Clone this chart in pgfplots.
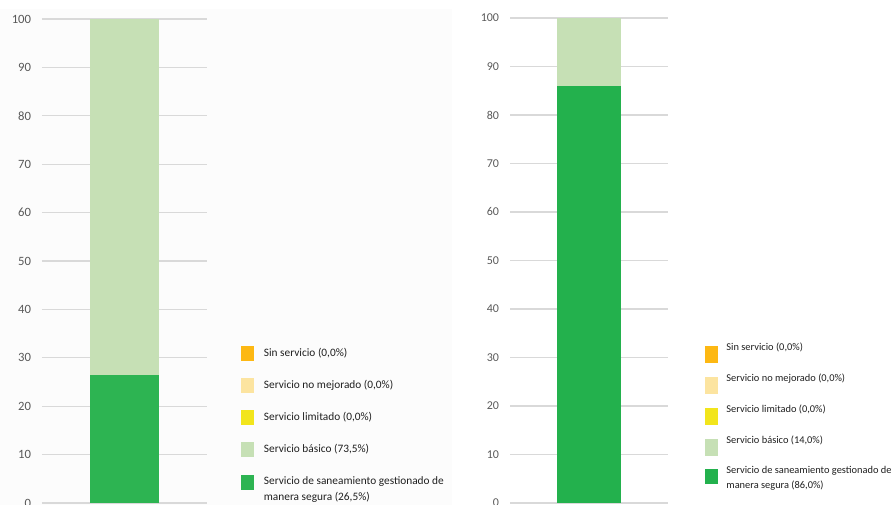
\documentclass[border=0pt]{standalone}
\usepackage{pgfplots}
\pgfplotsset{compat=1.18}
\usepackage{fontspec}
\setmainfont{Carlito}
\definecolor{gsafe}{HTML}{23B14D}
\definecolor{gsafeL}{HTML}{2DB452}
\definecolor{gbasic}{HTML}{C6E0B5}
\definecolor{ylim}{HTML}{F2E51C}
\definecolor{ynomej}{HTML}{FCE4A0}
\definecolor{osin}{HTML}{FDB813}
\definecolor{gridg}{HTML}{D9D9D9}
\definecolor{tickg}{HTML}{595959}
\definecolor{bgpanel}{HTML}{FCFCFC}
\pgfplotsset{
  imgLlast/.style={legend image code/.code={\fill[##1, overlay] (0pt,4.55pt) rectangle (9.75pt,15.75pt);}},
  imgRlast/.style={legend image code/.code={\fill[##1, overlay] (0pt,-6.7pt) rectangle (9.75pt,4.5pt);}},
}
\begin{document}
\begin{tikzpicture}[x=1pt,y=1pt]
\useasboundingbox (0,0) rectangle (668.25,378.75);
\clip (0,0) rectangle (668.25,378.75);
\fill[bgpanel] (0,0) rectangle (339,372);
\begin{axis}[
  at={(31.5pt,1.5pt)}, anchor=south west,
  scale only axis, width=123.75pt, height=363pt,
  xmin=-1, xmax=1, ymin=0, ymax=100,
  ybar stacked, bar width=51pt,
  xtick=\empty, ytick={0,10,...,100},
  axis line style={draw=none}, major tick length=0pt,
  ymajorgrids, grid style={draw=gridg, line width=0.8pt},
  /pgf/number format/assume math mode=true,
  yticklabel style={font=\fontsize{9.5}{11}\selectfont, text=tickg, inner sep=0pt, xshift=-8pt},
  legend image code/.code={\fill[#1, overlay] (0pt,-5.6pt) rectangle (9.75pt,5.6pt);},
  reverse legend, legend cell align=left,
  legend style={at={(1.206,0.3255)}, anchor=north west, draw=none, fill=none,
    inner sep=0pt, row sep=12.3pt, column sep=15pt,
    font=\fontsize{8.5}{12}\selectfont, text=black!88, cells={align=left, inner sep=0pt}},
]
\addplot[fill=gsafeL, draw=none, imgLlast] coordinates {(0,26.5)};
\addlegendentry[yshift=5.25pt]{Servicio de saneamiento gestionado de\\manera segura (26,5\%)}
\addplot[fill=gbasic, draw=none] coordinates {(0,73.5)};
\addlegendentry{Servicio básico (73,5\%)}
\addplot[fill=ylim, draw=none] coordinates {(0,0)};
\addlegendentry{Servicio limitado (0,0\%)}
\addplot[fill=ynomej, draw=none] coordinates {(0,0)};
\addlegendentry{Servicio no mejorado (0,0\%)}
\addplot[fill=osin, draw=none] coordinates {(0,0)};
\addlegendentry{Sin servicio (0,0\%)}
\end{axis}
\begin{axis}[
  at={(382.5pt,1.5pt)}, anchor=south west,
  scale only axis, width=118.5pt, height=363.75pt,
  xmin=-1, xmax=1, ymin=0, ymax=100,
  ybar stacked, bar width=48pt,
  xtick=\empty, ytick={0,10,...,100},
  axis line style={draw=none}, major tick length=0pt,
  ymajorgrids, grid style={draw=gridg, line width=0.8pt},
  /pgf/number format/assume math mode=true,
  yticklabel style={font=\fontsize{9}{11}\selectfont, text=tickg, inner sep=0pt, xshift=-8pt},
  legend image code/.code={\fill[#1, overlay] (0pt,-11.8pt) rectangle (9.75pt,1pt);},
  reverse legend, legend cell align=left,
  legend style={at={(1.234,0.3363)}, anchor=north west, draw=none, fill=none,
    inner sep=0pt, row sep=11.95pt, column sep=13.9pt,
    font=\fontsize{7.8}{11.25}\selectfont, text=black!88, cells={align=left, inner sep=0pt}},
]
\addplot[fill=gsafe, draw=none, imgRlast] coordinates {(0,86.0)};
\addlegendentry[yshift=-2.25pt]{Servicio de saneamiento gestionado de\\manera segura (86,0\%)}
\addplot[fill=gbasic, draw=none] coordinates {(0,14.0)};
\addlegendentry{Servicio básico (14,0\%)}
\addplot[fill=ylim, draw=none] coordinates {(0,0)};
\addlegendentry{Servicio limitado (0,0\%)}
\addplot[fill=ynomej, draw=none] coordinates {(0,0)};
\addlegendentry{Servicio no mejorado (0,0\%)}
\addplot[fill=osin, draw=none] coordinates {(0,0)};
\addlegendentry{Sin servicio (0,0\%)}
\end{axis}
\end{tikzpicture}
\end{document}
